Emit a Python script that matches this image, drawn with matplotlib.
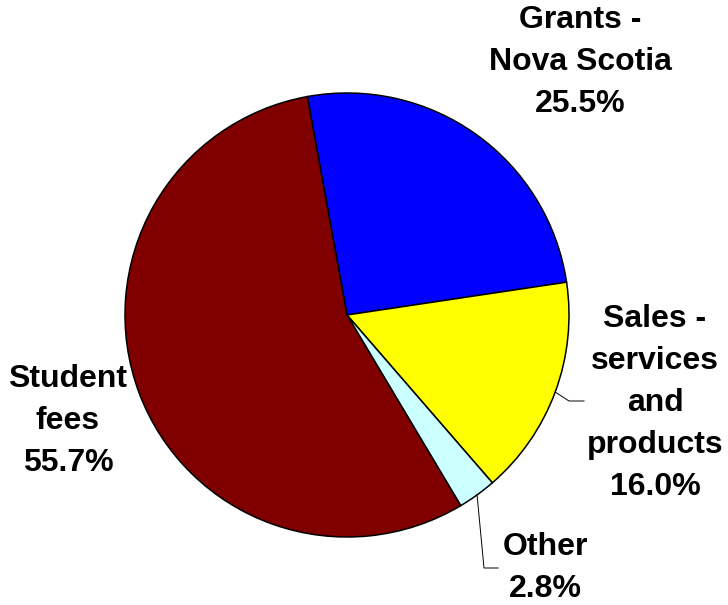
import numpy as np
import matplotlib.pyplot as plt

# Revenue shares (percent)
labels = ['Grants -\nNova Scotia', 'Sales -\nservices\nand\nproducts', 'Other', 'Student\nfees']
shares = [25.5, 16.0, 2.8, 55.7]
colors = ['#0000FF', '#FFFF00', '#CCFFFF', '#800000']

W, H = 728, 605
fig = plt.figure(figsize=(W / 100, H / 100), dpi=100)
ax = fig.add_axes([0, 0, 1, 1])

cx, cy, r = 347, H - 315, 222
wedges, _ = ax.pie(shares, colors=colors, startangle=100.3, counterclock=False,
                   center=(cx, cy), radius=r, frame=True,
                   wedgeprops=dict(edgecolor='black', linewidth=1.1))
ax.set_xlim(0, W)
ax.set_ylim(0, H)
ax.set_aspect('equal')
ax.axis('off')

# label block centres, in pixels from the top-left
label_pos = [(580, 62), (655, 403), (545, 568), (68, 421)]
font = dict(family='Liberation Sans', fontweight='bold', fontsize=23,
            ha='center', va='center', linespacing=1.53)
for lab, val, (lx, ly) in zip(labels, shares, label_pos):
    ax.text(lx, H - ly, f'{lab}\n{val:.1f}%', **font)

# leader lines for the two smaller slices
leaders = {1: [(569, 401), (584, 401)], 2: [(484, 568), (498, 568)]}
for i, pts in leaders.items():
    w = wedges[i]
    mid = np.deg2rad((w.theta1 + w.theta2) / 2)
    x0, y0 = cx + r * np.cos(mid), cy + r * np.sin(mid)
    xs = [x0] + [p[0] for p in pts]
    ys = [y0] + [H - p[1] for p in pts]
    ax.plot(xs, ys, color='black', linewidth=0.7)

fig.savefig('out.png', dpi=100)
